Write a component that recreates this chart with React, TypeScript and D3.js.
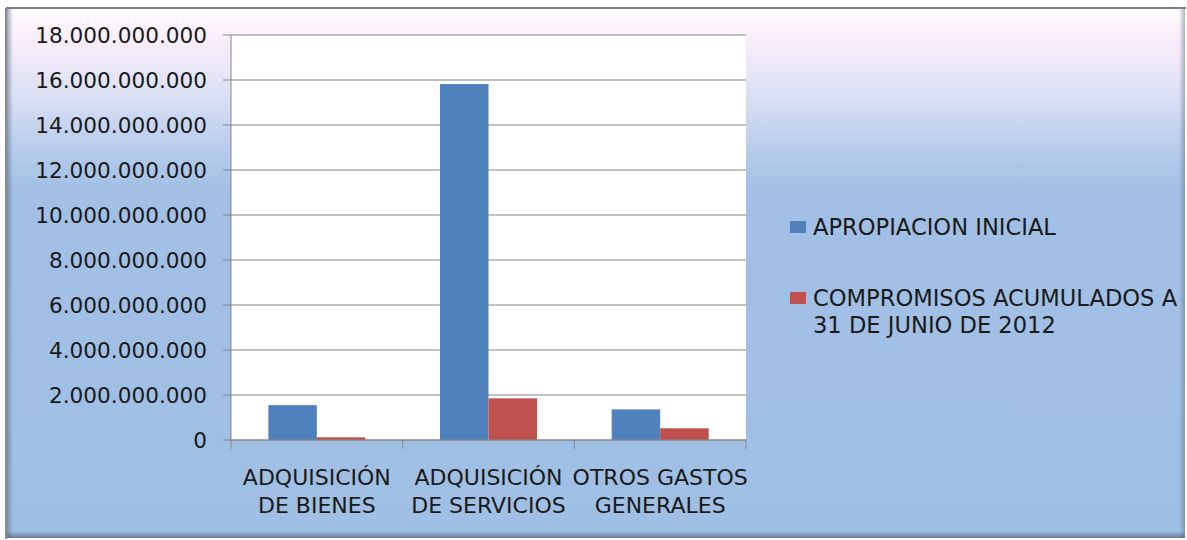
import React from 'react'
import * as d3 from 'd3'

const categories = [
  ['ADQUISICIÓN', 'DE BIENES'],
  ['ADQUISICIÓN', 'DE SERVICIOS'],
  ['OTROS GASTOS', 'GENERALES'],
]
const seriesNames = ['APROPIACION INICIAL', 'COMPROMISOS ACUMULADOS A 31 DE JUNIO DE 2012']
const legendLines = [['APROPIACION INICIAL'], ['COMPROMISOS ACUMULADOS A', '31 DE JUNIO DE 2012']]
const apropiacion = [1_550_000_000, 15_820_000_000, 1_360_000_000]
const compromisos = [120_000_000, 1_850_000_000, 520_000_000]
const yTicks = [0, 2e9, 4e9, 6e9, 8e9, 10e9, 12e9, 14e9, 16e9, 18e9]
const colors = ['#4f81bd', '#c0504d']

const W = 1187
const H = 540
const plot = { left: 231, right: 746, top: 35, bottom: 440 }
const font = '"DejaVu Sans", sans-serif'

function fmt(v: number) {
  return d3.format(',')(v).replace(/,/g, '.')
}

export default function App() {
  const x0 = d3.scaleBand<number>().domain(d3.range(categories.length)).range([plot.left, plot.right]).padding(0)
  const x1 = d3.scaleBand<number>().domain([0, 1]).range([0, x0.bandwidth()]).paddingInner(0).paddingOuter(0.77)
  const y = d3.scaleLinear().domain([0, 18e9]).range([plot.bottom, plot.top])
  const series = [apropiacion, compromisos]

  return (
    <svg width={W} height={H} style={{ position: 'absolute', left: 0, top: 0 }}>
      <defs>
        <linearGradient id="bg" x1="0" y1="0" x2="0" y2="1">
          <stop offset="0" stopColor="#ffffff" />
          <stop offset="0.03" stopColor="#fdf3fc" />
          <stop offset="0.07" stopColor="#f6ecf9" />
          <stop offset="0.17" stopColor="#d8dff4" />
          <stop offset="0.26" stopColor="#b8cdec" />
          <stop offset="0.34" stopColor="#a2c0e5" />
          <stop offset="1" stopColor="#a0bfe4" />
        </linearGradient>
        <linearGradient id="lEdge" x1="0" y1="0" x2="1" y2="0">
          <stop offset="0" stopColor="#5f6f88" stopOpacity="0.6" />
          <stop offset="1" stopColor="#5f6f88" stopOpacity="0" />
        </linearGradient>
        <linearGradient id="rEdge" x1="1" y1="0" x2="0" y2="0">
          <stop offset="0" stopColor="#5f6f88" stopOpacity="0.5" />
          <stop offset="1" stopColor="#5f6f88" stopOpacity="0" />
        </linearGradient>
        <linearGradient id="bEdge" x1="0" y1="1" x2="0" y2="0">
          <stop offset="0" stopColor="#4f5f78" stopOpacity="0.7" />
          <stop offset="1" stopColor="#4f5f78" stopOpacity="0" />
        </linearGradient>
      </defs>
      <rect x={0} y={0} width={W} height={H} fill="#ffffff" />
      {/* frame */}
      <rect x={7} y={9} width={1178} height={529} fill="url(#bg)" />
      <rect x={7} y={9} width={6} height={529} fill="url(#lEdge)" />
      <rect x={1179} y={9} width={6} height={529} fill="url(#rEdge)" />
      <rect x={7} y={531} width={1178} height={7} fill="url(#bEdge)" />
      <line x1={6} x2={1186} y1={8} y2={8} stroke="#7f7f7f" strokeWidth={2} />
      <line x1={6} x2={6} y1={8} y2={539} stroke="#8a8a8a" strokeWidth={2} />

      {/* plot area */}
      <rect x={plot.left} y={plot.top} width={plot.right - plot.left} height={plot.bottom - plot.top} fill="#ffffff" />
      {yTicks.map(t => (
        <g key={t}>
          <line x1={plot.left - 8} x2={plot.right} y1={y(t)} y2={y(t)} stroke="#868686" strokeWidth={1} />
          <text x={207} y={y(t)} dy="0.36em" textAnchor="end" fontFamily={font} fontSize={21.6} fill="#1a1a1a">
            {fmt(t)}
          </text>
        </g>
      ))}
      <line x1={plot.left} x2={plot.left} y1={plot.top} y2={plot.bottom} stroke="#868686" />

      {/* bars */}
      {categories.map((_, i) =>
        series.map((s, k) => (
          <rect
            key={`${i}-${k}`}
            x={x0(i)! + x1(k)!}
            y={y(s[i])}
            width={x1.bandwidth()}
            height={plot.bottom - y(s[i])}
            fill={colors[k]}
          />
        ))
      )}

      {/* x axis */}
      <line x1={plot.left} x2={plot.right} y1={plot.bottom} y2={plot.bottom} stroke="#868686" />
      {d3.range(categories.length + 1).map(i => {
        const xx = plot.left + i * x0.step()
        return <line key={i} x1={xx} x2={xx} y1={plot.bottom} y2={plot.bottom + 9} stroke="#868686" />
      })}
      {categories.map((lines, i) => (
        <text key={i} textAnchor="middle" fontFamily={font} fontSize={22} fill="#1a1a1a">
          {lines.map((l, j) => (
            <tspan key={j} x={x0(i)! + x0.bandwidth() / 2} y={485 + j * 28}>
              {l}
            </tspan>
          ))}
        </text>
      ))}

      {/* legend */}
      {seriesNames.map((name, k) => {
        const cy = k === 0 ? 227 : 298
        return (
          <g key={name}>
            <rect x={790} y={cy - 6} width={16} height={12} fill={colors[k]} />
            <text fontFamily={font} fontSize={22.6} fill="#1a1a1a">
              {legendLines[k].map((l, j) => (
                <tspan key={j} x={813} y={cy + 8 + j * 27}>
                  {l}
                </tspan>
              ))}
            </text>
          </g>
        )
      })}
    </svg>
  )
}
